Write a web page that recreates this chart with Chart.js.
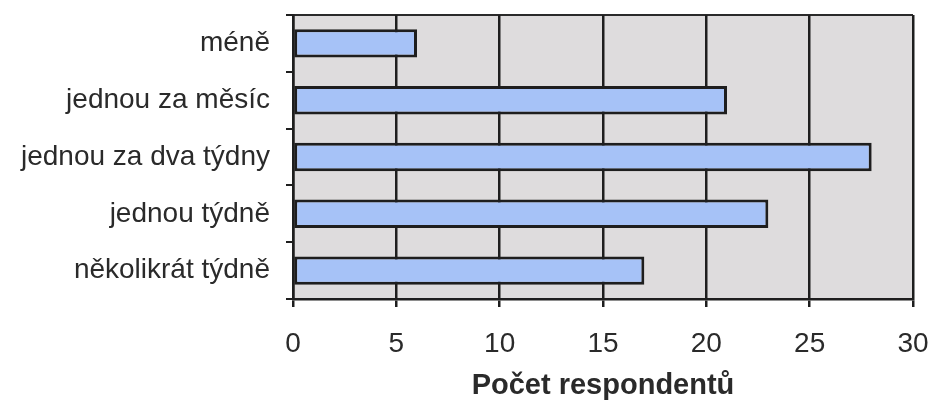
<!DOCTYPE html>
<html>
<head>
<meta charset="utf-8">
<script src="https://cdn.jsdelivr.net/npm/chart.js@4"></script>
<style>
html,body{margin:0;padding:0;background:#fff;}
#wrap{width:932px;height:405px;}
</style>
</head>
<body>
<div id="wrap"><canvas id="c" width="932" height="405"></canvas></div>
<script>
const categories = ["méně", "jednou za měsíc", "jednou za dva týdny", "jednou týdně", "několikrát týdně"];
const respondents = [6, 21, 28, 23, 17];
const xTicks = [0, 5, 10, 15, 20, 25, 30];
const xTitle = "Počet respondentů";

const plotBg = {
  id: 'plotBg',
  beforeDraw(chart) {
    const {ctx, chartArea: a} = chart;
    ctx.save();
    ctx.fillStyle = '#dedcdd';
    ctx.fillRect(a.left, a.top, a.right - a.left, a.bottom - a.top);
    ctx.strokeStyle = '#b8b8b8';
    ctx.lineWidth = 1.5;
    ctx.beginPath();
    ctx.moveTo(a.right, a.top);
    ctx.lineTo(a.right, a.bottom);
    ctx.stroke();
    ctx.strokeStyle = '#2a2a2a';
    ctx.lineWidth = 2;
    ctx.beginPath();
    ctx.moveTo(a.left, a.top);
    ctx.lineTo(a.right, a.top);
    ctx.stroke();
    ctx.restore();
  }
};

const FONT = 'Liberation Sans, Arial, sans-serif';

new Chart(document.getElementById('c'), {
  type: 'bar',
  data: {
    labels: categories,
    datasets: [{
      data: respondents,
      backgroundColor: '#a6c2f7',
      borderColor: '#1e1e1e',
      borderWidth: 3,
      borderSkipped: false,
      barPercentage: 0.5,
      categoryPercentage: 1.0
    }]
  },
  options: {
    indexAxis: 'y',
    responsive: false,
    animation: false,
    devicePixelRatio: 1,
    layout: {padding: {left: 0, top: 15, right: 19, bottom: 0}},
    plugins: {legend: {display: false}, tooltip: {enabled: false}},
    scales: {
      x: {
        min: 0, max: 30,
        afterBuildTicks(scale) { scale.ticks = xTicks.map(v => ({value: v})); },
        afterFit(scale) { scale.height = 405 - 299; scale.paddingLeft = 0; scale.paddingRight = 0; },
        grid: {color: '#1e1e1e', lineWidth: 2.5, tickLength: 8, drawOnChartArea: true},
        border: {display: true, color: '#1e1e1e', width: 2.5},
        ticks: {color: '#2a2a2a', padding: 20, font: {family: FONT, size: 28}},
        title: {display: true, text: xTitle, color: '#2a2a2a', padding: {top: 10, bottom: 2},
                font: {family: FONT, size: 29, weight: 'bold'}}
      },
      y: {
        afterFit(scale) { scale.width = 293; scale.paddingTop = 0; scale.paddingBottom = 0; },
        grid: {offset: true, drawOnChartArea: false, color: '#1e1e1e', lineWidth: 2, tickLength: 7},
        border: {display: true, color: '#1e1e1e', width: 2.5},
        ticks: {color: '#2a2a2a', padding: 16, font: {family: FONT, size: 28}}
      }
    }
  },
  plugins: [plotBg]
});
</script>
</body>
</html>
